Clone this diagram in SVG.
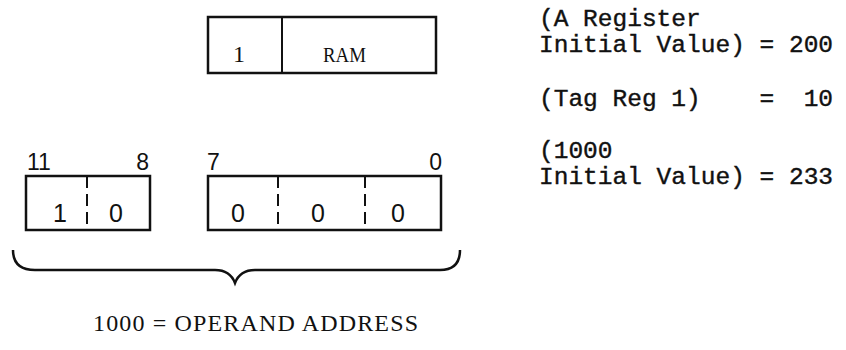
<svg xmlns="http://www.w3.org/2000/svg" width="846" height="350" viewBox="0 0 846 350">
<style>
.box{fill:none;stroke:#111;stroke-width:2.5}
.sep{stroke:#111;stroke-width:2}
.dash{stroke:#111;stroke-width:2;stroke-dasharray:12 6}
.mono{font-family:"Liberation Mono","Courier New",monospace;font-size:24.5px;fill:#111;stroke:#111;stroke-width:0.4}
.dig{font-family:"Liberation Sans",Arial,sans-serif;fill:#111}
.ser{font-family:"Liberation Serif","Times New Roman",serif;fill:#111}
</style>
<rect width="846" height="350" fill="#fff"/>
<g id="ram-word">
<rect class="box" x="208" y="17" width="228" height="56"/>
<line class="sep" x1="282" y1="17" x2="282" y2="73"/>
<text class="ser" x="239" y="62" font-size="24" text-anchor="middle">1</text>
<text class="ser" x="323" y="62" font-size="20" textLength="43" lengthAdjust="spacingAndGlyphs">RAM</text>
</g>
<g id="high-field">
<text class="dig" x="27" y="170" font-size="23">11</text>
<text class="dig" x="149" y="170" font-size="23" text-anchor="end">8</text>
<rect class="box" x="26" y="176" width="124" height="54"/>
<line class="dash" x1="87" y1="176" x2="87" y2="230"/>
<text class="dig" x="60" y="222" font-size="25" text-anchor="middle">1</text>
<text class="dig" x="116" y="222" font-size="25" text-anchor="middle">0</text>
</g>
<g id="low-field">
<text class="dig" x="207" y="170" font-size="23">7</text>
<text class="dig" x="442" y="170" font-size="23" text-anchor="end">0</text>
<rect class="box" x="208" y="176" width="233" height="54"/>
<line class="dash" x1="278" y1="176" x2="278" y2="230"/>
<line class="dash" x1="365" y1="176" x2="365" y2="230"/>
<text class="dig" x="238" y="222" font-size="25" text-anchor="middle">0</text>
<text class="dig" x="318" y="222" font-size="25" text-anchor="middle">0</text>
<text class="dig" x="398" y="222" font-size="25" text-anchor="middle">0</text>
</g>
<g id="connectors">
<path class="box" d="M13,250 Q13,270 35,270 L215,270 Q230,270 235,283 Q240,270 255,270 L440,270 Q460,270 460,250"/>
</g>
<g id="operand-label">
<text class="ser" x="93" y="331" font-size="24" textLength="325" lengthAdjust="spacing">1000 = OPERAND ADDRESS</text>
</g>
<g id="values">
<text class="mono" xml:space="preserve" x="539" y="26">(A Register</text>
<text class="mono" xml:space="preserve" x="539" y="52">Initial Value) = 200</text>
<text class="mono" xml:space="preserve" x="539" y="106">(Tag Reg 1)    =  10</text>
<text class="mono" xml:space="preserve" x="539" y="158">(1000</text>
<text class="mono" xml:space="preserve" x="539" y="184">Initial Value) = 233</text>
</g>
</svg>
